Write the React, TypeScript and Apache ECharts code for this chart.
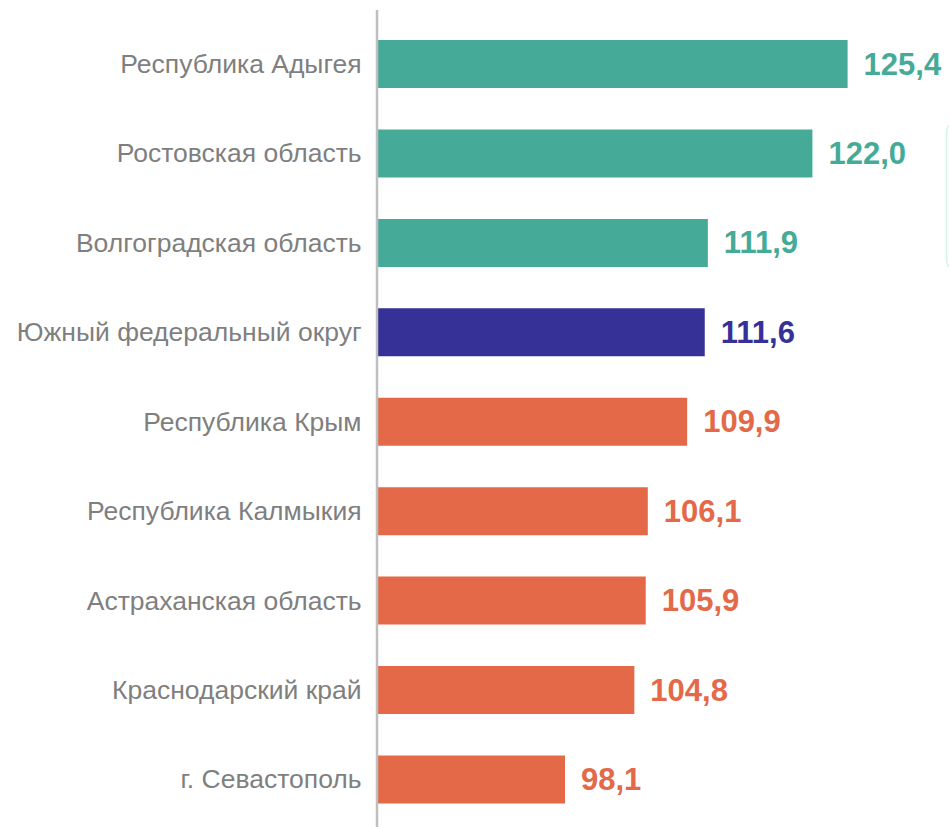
import React, { useEffect, useRef } from "react";
import * as echarts from "echarts";

const categories = [
  "Республика Адыгея",
  "Ростовская область",
  "Волгоградская область",
  "Южный федеральный округ",
  "Республика Крым",
  "Республика Калмыкия",
  "Астраханская область",
  "Краснодарский край",
  "г. Севастополь",
];
const values = [125.4, 122.0, 111.9, 111.6, 109.9, 106.1, 105.9, 104.8, 98.1];
const groups = ["up", "up", "up", "district", "down", "down", "down", "down", "down"];
const groupColors: Record<string, string> = {
  up: "#45AB98",
  district: "#353196",
  down: "#E36948",
};

export default function App() {
  const ref = useRef<HTMLDivElement>(null);
  useEffect(() => {
    document.body.style.margin = "0";
    if (!ref.current) return;
    const chart = echarts.init(ref.current, null, { renderer: "svg" });
    const cats = [...categories].reverse();
    const data = values
      .map((v, i) => {
        const c = groupColors[groups[i]];
        return {
          value: v,
          itemStyle: { color: c },
          label: { color: c },
        };
      })
      .reverse();
    chart.setOption({
      animation: false,
      grid: { left: 377.6, right: 2, top: 19.3, bottom: 2.8, containLabel: false },
      xAxis: {
        type: "value",
        min: 80,
        max: 135,
        show: false,
        splitLine: { show: false },
      },
      yAxis: {
        type: "category",
        data: cats,
        axisLine: { show: false },
        axisTick: { show: false },
        axisLabel: {
          margin: 16,
          fontSize: 26.5,
          color: "#7F7F7F",
          fontFamily: "Arial, 'Liberation Sans', sans-serif",
        },
      },
      series: [
        {
          type: "bar",
          data,
          barWidth: 48,
          label: {
            show: true,
            position: "right",
            distance: 16,
            fontSize: 31,
            fontWeight: "bold",
            fontFamily: "Arial, 'Liberation Sans', sans-serif",
            formatter: (p: any) => p.value.toFixed(1).replace(".", ","),
          },
        },
      ],
      graphic: [
        {
          type: "line",
          shape: { x1: 377, y1: 10, x2: 377, y2: 827 },
          style: { stroke: "#BFBFBF", lineWidth: 2.5 },
          z: 10,
        },
        {
          type: "rect",
          shape: { x: 946.5, y: 122, width: 30, height: 148, r: 10 },
          style: { fill: "#FBFFFD", stroke: "#D3F3E4", lineWidth: 1.5 },
        },
      ],
    });
    return () => chart.dispose();
  }, []);
  return <div ref={ref} style={{ width: 949, height: 827 }} />;
}
